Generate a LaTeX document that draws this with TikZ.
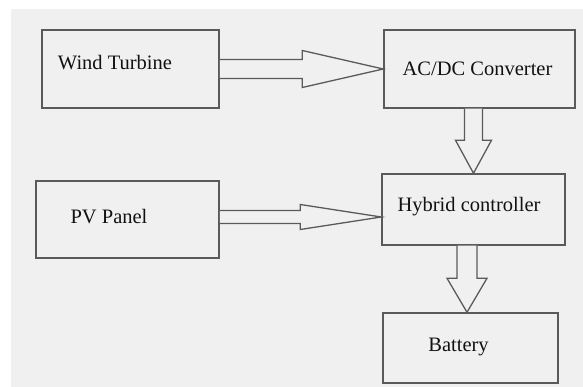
\documentclass[tikz,border=0pt]{standalone}
\usepackage{fontspec}
\setmainfont{Liberation Serif}
\usetikzlibrary{calc}
\definecolor{bggray}{HTML}{F0F0F0}
\definecolor{linegray}{HTML}{5A5A5A}
\definecolor{inkgray}{HTML}{111111}
\newcommand{\harrow}[5]{%
  \draw[blockarrow] ($(#1)+(0,-#3)$) -- ($(#2)+(-#5,-#3)$) -- ($(#2)+(-#5,-#4)$) -- (#2)
    -- ($(#2)+(-#5,#4)$) -- ($(#2)+(-#5,#3)$) -- ($(#1)+(0,#3)$);}
\newcommand{\varrow}[5]{%
  \draw[blockarrow] ($(#1)+(-#3,0)$) -- ($(#2)+(-#3,-#5)$) -- ($(#2)+(-#4,-#5)$) -- (#2)
    -- ($(#2)+(#4,-#5)$) -- ($(#2)+(#3,-#5)$) -- ($(#1)+(#3,0)$);}
\tikzset{
  box/.style 2 args={draw=linegray, line width=1.5pt, inner sep=0pt,
    minimum width=#1, minimum height=#2},
  blockarrow/.style={draw=linegray, line width=1.3pt, fill=bggray, line join=miter},
}
\begin{document}
\begin{tikzpicture}[x=1pt,y=-1pt, every node/.style={font=\fontsize{20.5}{24}\selectfont, text=inkgray}]
\useasboundingbox (0,0) rectangle (583,387);
\fill[white] (0,0) rectangle (583,387);
\fill[bggray] (11,9) rectangle (583,387);
\node[box={177pt}{78pt}] (wind) at (130.5,69) {};
\node[box={191pt}{78pt}] (acdc) at (479.5,69) {};
\node[box={183pt}{77pt}] (pv) at (127.5,219.5) {};
\node[box={183pt}{71pt}] (hybrid) at (473.5,209.5) {};
\node[box={175pt}{70pt}] (battery) at (470.5,348) {};
\node (windlbl) at (115,63) {Wind Turbine};
\node (acdclbl) at (477.5,69) {AC/DC Converter};
\node (pvlbl) at (109,217) {PV Panel};
\node (hyblbl) at (469,207) {Hybrid controller};
\node (batlbl) at (458.5,347) {Battery};
\coordinate (pvout) at ($(pv.east)+(0,-2.5)$);
\coordinate (hybin) at (pvout -| hybrid.west);
\coordinate (acdcout) at (hybrid.north |- acdc.south);
\coordinate (hybout) at ($(hybrid.south)+(-6.5,0)$);
\coordinate (batin) at (hybout |- battery.north);
\harrow{wind.east}{acdc.west}{9.5}{18.5}{81}
\harrow{pvout}{hybin}{6.5}{12.5}{81}
\varrow{acdcout}{hybrid.north}{9}{18}{33}
\varrow{hybout}{batin}{10}{20}{34}
\end{tikzpicture}
\end{document}
